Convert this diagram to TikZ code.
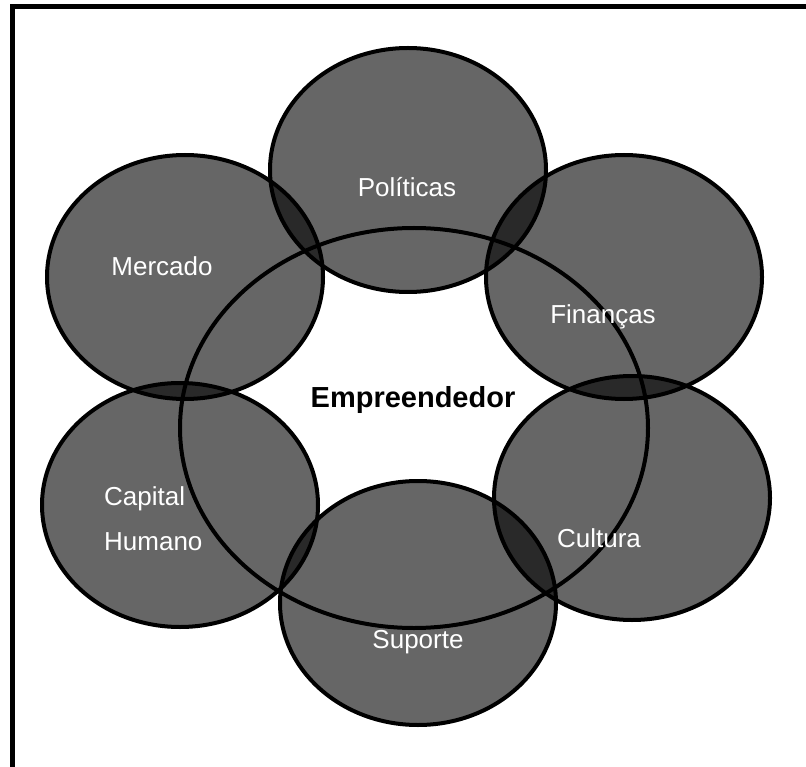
\documentclass[tikz,border=0pt]{standalone}
\usepackage{fontspec}
\setmainfont{Liberation Sans}
\usetikzlibrary{shapes.geometric}

\tikzset{
  area/.style={ellipse, draw=black, line width=4pt, fill=black, fill opacity=0.6,
    minimum width=276pt, minimum height=244pt, inner sep=0pt},
  arealabel/.style={text=white, inner sep=0pt, font=\fontsize{26}{45}\selectfont},
}

\begin{document}
\begin{tikzpicture}[x=1pt, y=-1pt]
    \useasboundingbox (0,0) rectangle (806,767);

    % Frame around the figure
    \draw[line width=5pt] (12.5,6.5) rectangle (812,773);

    % Six areas around the entrepreneur
    \node[area] (politicas) at (408,170) {};
    \node[area] (mercado) at (185,277) {};
    \node[area] (financas) at (624,277) {};
    \node[area] (capital) at (180,505) {};
    \node[area] (cultura) at (632,498) {};
    \node[area] (suporte) at (418,603) {};

    % Central ellipse (outline only)
    \node[ellipse, draw, line width=4pt, minimum width=468pt, minimum height=400pt,
      inner sep=0pt] (empreendedor) at (414,428) {};

    % Labels
    \node[arealabel] (lpoliticas) at (407,187) {Políticas};
    \node[arealabel] (lmercado) at (162,266) {Mercado};
    \node[arealabel] (lfinancas) at (603,317) {Finanças};
    \node[arealabel, anchor=west, align=left] (lcapital) at (104,519) {Capital\\Humano};
    \node[arealabel] (lcultura) at (599,538) {Cultura};
    \node[arealabel] (lsuporte) at (418,642) {Suporte};
    \node[inner sep=0pt, font=\bfseries\fontsize{29}{34}\selectfont] (lempreendedor) at (413,400) {Empreendedor};
\end{tikzpicture}
\end{document}
